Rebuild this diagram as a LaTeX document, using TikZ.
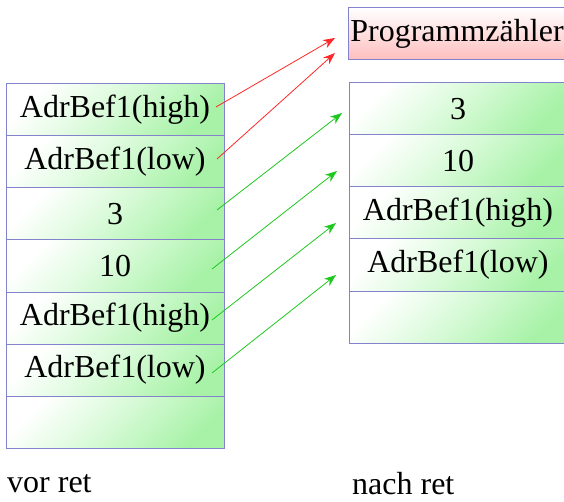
\documentclass[tikz,border=0pt]{standalone}
\usepackage{fontspec}
\setmainfont{Liberation Serif}
\newfontfamily\zellfont{Liberation Serif}
\usetikzlibrary{arrows.meta}
\definecolor{rahmen}{RGB}{130,130,205}
\definecolor{zellgruen}{RGB}{168,242,168}
\definecolor{zellmitte}{RGB}{214,250,214}
\definecolor{zellrot}{RGB}{255,190,190}
\definecolor{rotmitte}{RGB}{255,222,222}
\definecolor{pfeilrot}{RGB}{255,40,40}
\definecolor{pfeilgruen}{RGB}{30,200,30}
\tikzset{
  zelle/.style={draw=rahmen, line width=1pt, top color=white, bottom color=zellgruen, middle color=zellmitte, shading angle=45,
    minimum width=218pt, minimum height=52pt, inner sep=0pt, outer sep=0pt, font=\zellfont\fontsize{32}{38}\selectfont},
  pczelle/.style={zelle, bottom color=zellrot, middle color=rotmitte},
  unterschrift/.style={anchor=west, inner sep=0pt, font=\zellfont\fontsize{32}{38}\selectfont},
  rotpfeil/.style={->, pfeilrot, line width=0.8pt},
  gruenpfeil/.style={->, pfeilgruen, line width=0.8pt}
}
\begin{document}
\begin{tikzpicture}[x=1pt, y=-1pt, >={Stealth[length=12pt,width=9pt]}]
\useasboundingbox (0,0) rectangle (564,502);
% vor ret
\node[zelle] (l1) at (115,110) {AdrBef1(high)};
\node[zelle] (l2) at (115,162) {AdrBef1(low)};
\node[zelle] (l3) at (115,214) {3};
\node[zelle] (l4) at (115,266) {10};
\node[zelle] (l5) at (115,318) {AdrBef1(high)};
\node[zelle] (l6) at (115,370) {AdrBef1(low)};
\node[zelle] (l7) at (115,422) {};
% nach ret
\node[pczelle] (pc) at (457,34) {Programmz\"ahler};
\node[zelle] (r1) at (458,109) {3};
\node[zelle] (r2) at (458,161) {10};
\node[zelle] (r3) at (458,213) {AdrBef1(high)};
\node[zelle] (r4) at (458,265) {AdrBef1(low)};
\node[zelle] (r5) at (458,317) {};
\node[unterschrift] (vor) at (7,484) {vor ret};
\node[unterschrift] (nach) at (352,484) {nach ret};
\draw[rotpfeil] ([xshift=-8pt,yshift=3pt]l1.east) -- ([xshift=-13pt,yshift=-4pt]pc.west);
\draw[rotpfeil] ([xshift=-7pt,yshift=3pt]l2.east) -- ([xshift=-13pt,yshift=-19pt]pc.west);
\draw[gruenpfeil] ([xshift=-7pt,yshift=4pt]l3.east) -- ([xshift=-7pt,yshift=-4pt]r1.west);
\draw[gruenpfeil] ([xshift=-12pt,yshift=-3pt]l4.east) -- ([xshift=-12pt,yshift=-10pt]r2.west);
\draw[gruenpfeil] ([xshift=-12pt,yshift=-2pt]l5.east) -- ([xshift=-13pt,yshift=-10pt]r3.west);
\draw[gruenpfeil] ([xshift=-12pt,yshift=-3pt]l6.east) -- ([xshift=-13pt,yshift=-10pt]r4.west);
\end{tikzpicture}
\end{document}
